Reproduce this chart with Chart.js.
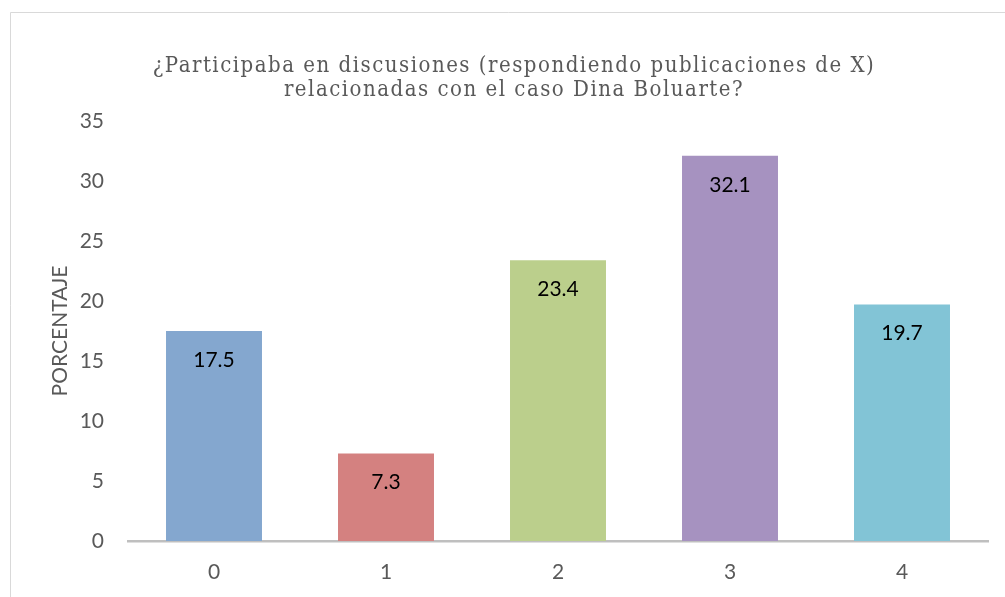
<!DOCTYPE html>
<html>
<head>
<meta charset="utf-8">
<script src="https://cdn.jsdelivr.net/npm/chart.js@4"></script>
<style>
html,body{margin:0;padding:0;background:#fff;}
#wrap{position:absolute;left:0;top:0;width:1005px;height:597px;}
</style>
</head>
<body>
<div id="wrap"><canvas id="c" width="1005" height="597"></canvas></div>
<script>
const categories = ["0", "1", "2", "3", "4"];
const values = [17.5, 7.3, 23.4, 32.1, 19.7];
const barColors = ["#84A7CF", "#D48180", "#BBCF8C", "#A692C0", "#82C4D6"];
const titleLines = ["¿Participaba en discusiones (respondiendo publicaciones de X)", "relacionadas con el caso Dina Boluarte?"];
const yAxisTitle = "PORCENTAJE";
const yMin = 0, yMax = 35, yStep = 5;

const sansFont = 'Lato, "Open Sans", sans-serif';

const frame = {
  id: 'frame',
  beforeDraw(chart) {
    const ctx = chart.ctx;
    ctx.save();
    ctx.fillStyle = '#fff';
    ctx.fillRect(0, 0, chart.width, chart.height);
    ctx.strokeStyle = '#D9D9D9';
    ctx.lineWidth = 1;
    ctx.beginPath();
    ctx.moveTo(10.5, chart.height + 5);
    ctx.lineTo(10.5, 12.5);
    ctx.lineTo(chart.width + 5, 12.5);
    ctx.stroke();
    ctx.restore();
  }
};

const chartTitle = {
  id: 'chartTitle',
  afterDraw(chart) {
    const ctx = chart.ctx;
    ctx.save();
    ctx.font = '22px "DejaVu Serif Condensed", "DejaVu Serif", serif';
    if ('letterSpacing' in ctx) ctx.letterSpacing = '1.5px';
    ctx.fillStyle = '#595959';
    ctx.textAlign = 'center';
    ctx.textBaseline = 'alphabetic';
    const cx = 514;
    const baselines = [72, 96];
    titleLines.forEach((t, i) => ctx.fillText(t, cx, baselines[i]));
    ctx.restore();
  }
};

const labels = {
  id: 'valueLabels',
  afterDatasetsDraw(chart) {
    const ctx = chart.ctx;
    const meta = chart.getDatasetMeta(0);
    ctx.save();
    ctx.font = '21px ' + sansFont;
    ctx.fillStyle = '#000';
    ctx.textAlign = 'center';
    ctx.textBaseline = 'middle';
    meta.data.forEach((bar, i) => {
      ctx.fillText(String(values[i]), bar.x, bar.y + 29);
    });
    ctx.restore();
  }
};

new Chart(document.getElementById('c'), {
  type: 'bar',
  data: {
    labels: categories,
    datasets: [{
      data: values,
      backgroundColor: barColors,
      borderWidth: 0,
      categoryPercentage: 1,
      barPercentage: 0.558
    }]
  },
  options: {
    responsive: false,
    animation: false,
    devicePixelRatio: 1,
    layout: { padding: { left: 44, right: 17, top: 121, bottom: 0 } },
    plugins: {
      legend: { display: false },
      tooltip: { enabled: false },
      title: { display: false }
    },
    scales: {
      x: {
        grid: { display: false, drawTicks: false },
        border: { display: true, color: '#BFBFBF', width: 2.5 },
        ticks: { color: '#595959', font: { family: sansFont, size: 21 }, padding: 19 },
        afterFit(scale) { scale.height = 56; }
      },
      y: {
        min: yMin, max: yMax,
        grid: { display: false, drawTicks: false },
        border: { display: false },
        ticks: { stepSize: yStep, color: '#595959', font: { family: sansFont, size: 21 }, padding: 24 },
        title: { display: true, text: yAxisTitle, color: '#595959', font: { family: sansFont, size: 21 }, padding: { top: 4, bottom: 0 } },
        afterFit(scale) { scale.width = 84; }
      }
    }
  },
  plugins: [frame, labels, chartTitle]
});
</script>
</body>
</html>
